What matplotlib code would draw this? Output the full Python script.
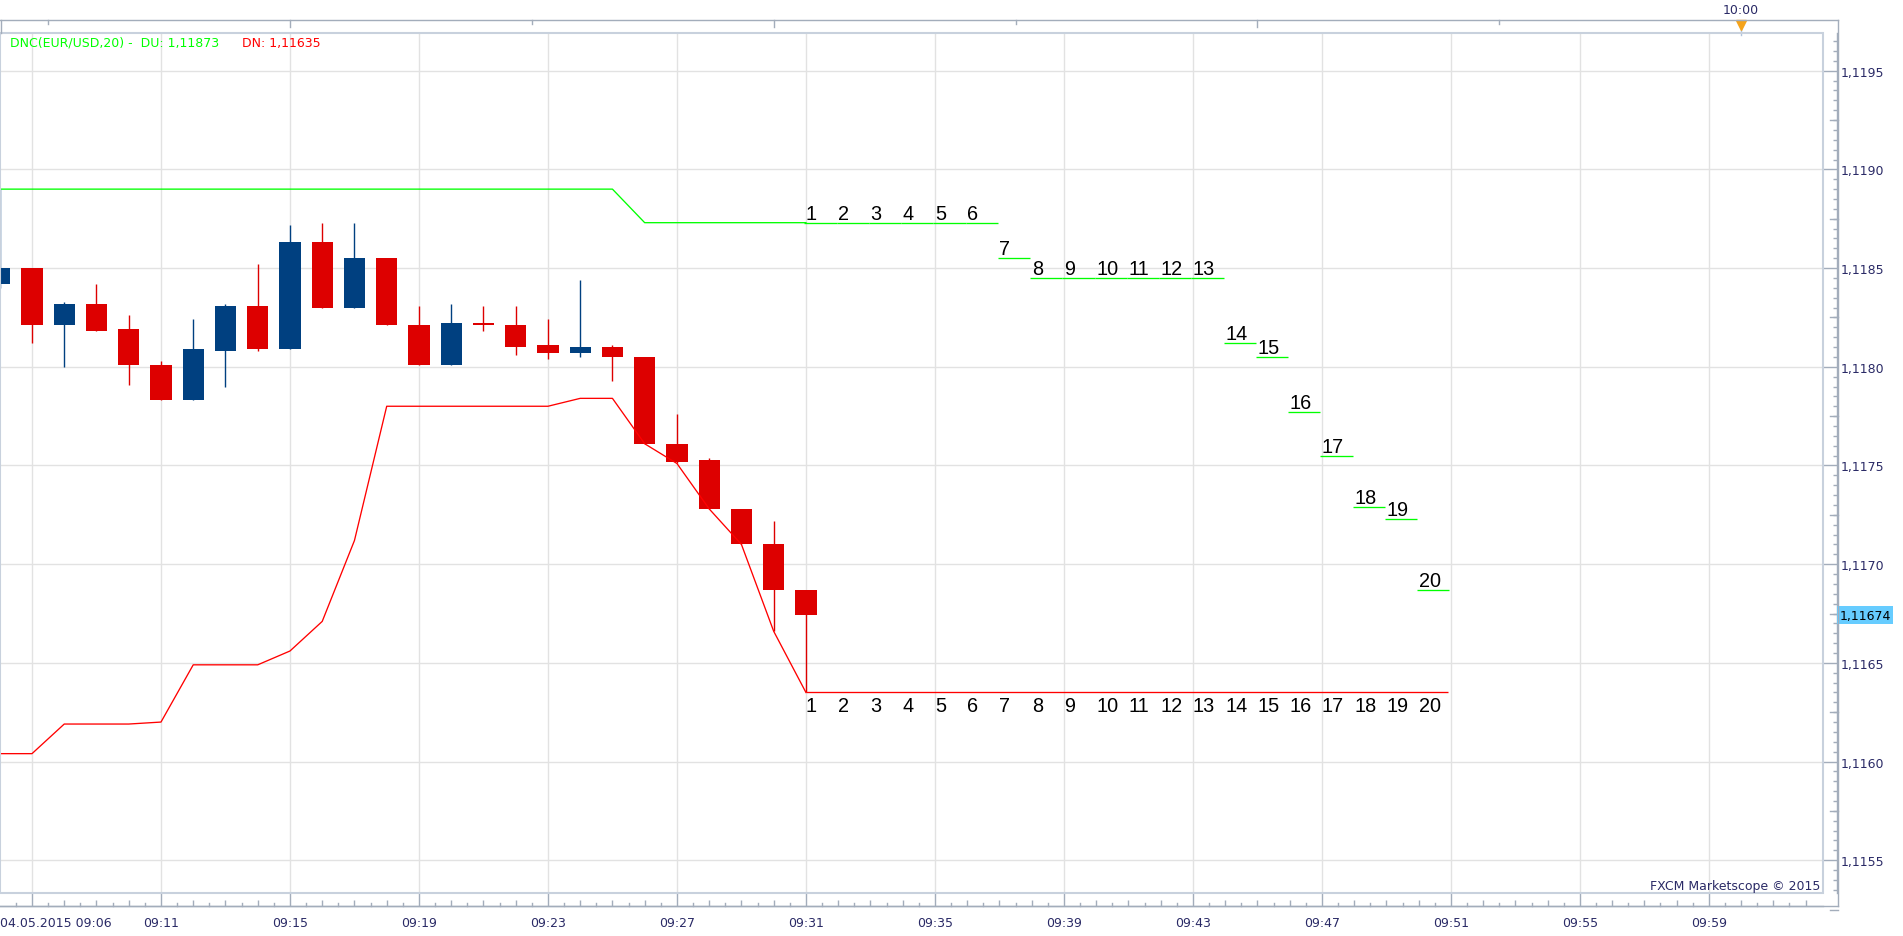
import matplotlib
matplotlib.use("Agg")
import matplotlib.pyplot as plt
import matplotlib.transforms as mtransforms
from matplotlib.lines import Line2D
from matplotlib.patches import Rectangle
from matplotlib.ticker import FixedLocator, MultipleLocator
import numpy as np

# candles, one per minute (index 0 = first visible bar)
opens = [1.11842, 1.11850, 1.11821, 1.11832, 1.11819, 1.11801, 1.11783, 1.11808, 1.11831,
         1.11809, 1.11863, 1.11830, 1.11855, 1.11821, 1.11801, 1.11822, 1.11821, 1.11811,
         1.11807, 1.11810, 1.11805, 1.11761, 1.11753, 1.11728, 1.11710, 1.11687]
highs = [1.11890, 1.11850, 1.11833, 1.11842, 1.11826, 1.11803, 1.11824, 1.11832, 1.11852,
         1.11872, 1.11873, 1.11873, 1.11855, 1.11831, 1.11832, 1.11831, 1.11831, 1.11824,
         1.11844, 1.11811, 1.11805, 1.11776, 1.11754, 1.11728, 1.11722, 1.11687]
lows = [1.11840, 1.11812, 1.11800, 1.11818, 1.11791, 1.11783, 1.11783, 1.11790, 1.11808,
        1.11809, 1.11830, 1.11830, 1.11821, 1.11801, 1.11801, 1.11818, 1.11806, 1.11804,
        1.11805, 1.11793, 1.11761, 1.11751, 1.11728, 1.11710, 1.11666, 1.11635]
closes = [1.11850, 1.11821, 1.11832, 1.11818, 1.11801, 1.11783, 1.11809, 1.11831, 1.11809,
          1.11863, 1.11830, 1.11855, 1.11821, 1.11801, 1.11822, 1.11821, 1.11810, 1.11807,
          1.11810, 1.11805, 1.11761, 1.11752, 1.11728, 1.11710, 1.11687, 1.11674]

# Donchian channel (20) as drawn
du = [1.11890, 1.11890, 1.11890, 1.11890, 1.11890, 1.11890, 1.11890, 1.11890, 1.11890,
      1.11890, 1.11890, 1.11890, 1.11890, 1.11890, 1.11890, 1.11890, 1.11890, 1.11890,
      1.11890, 1.11890, 1.11873, 1.11873, 1.11873, 1.11873, 1.11873, 1.11873]
dn = [1.11604, 1.11604, 1.11619, 1.11619, 1.11619, 1.11620, 1.11649, 1.11649, 1.11649,
      1.11656, 1.11671, 1.11712, 1.11780, 1.11780, 1.11780, 1.11780, 1.11780, 1.11780,
      1.11784, 1.11784, 1.11761, 1.11751, 1.11728, 1.11710, 1.11666, 1.11635]

# projected channel for the next 20 bars
proj_steps = list(range(1, 21))
du_proj = [1.11873, 1.11873, 1.11873, 1.11873, 1.11873, 1.11873, 1.11855, 1.11845, 1.11845,
           1.11845, 1.11845, 1.11845, 1.11845, 1.11812, 1.11805, 1.11777, 1.11755, 1.11729,
           1.11723, 1.11687]
dn_proj = 1.11635

x_tick_pos = [1, 5, 9, 13, 17, 21, 25, 29, 33, 37, 41, 45, 49, 53]
x_tick_labels = ["04.05.2015 09:06", "09:11", "09:15", "09:19", "09:23", "09:27", "09:31",
                 "09:35", "09:39", "09:43", "09:47", "09:51", "09:55", "09:59"]
y_ticks = [1.1155, 1.1160, 1.1165, 1.1170, 1.1175, 1.1180, 1.1185, 1.1190, 1.1195]

RED = "#dd0000"
BLUE = "#004080"
GREEN = "#00ff00"
DNRED = "#ff0000"
TXT = "#2a2a66"
FRAME = "#a3adbb"

W, H = 1903, 937
fig = plt.figure(figsize=(W / 100, H / 100), dpi=100)


def fx(px):
    return px / W


def fy(py):
    return 1 - py / H


ax = fig.add_axes([0, fy(894), fx(1822.7), (894 - 34) / H])
ax.set_xlim(0.008, 56.53)
ax.set_ylim(1.115334, 1.119691)

# candles
o = np.array(opens)
c = np.array(closes)
idx = np.arange(len(o))
cols = np.where(c >= o, BLUE, RED)
ax.vlines(idx, lows, highs, colors=cols, lw=1.0, zorder=2)
ax.bar(idx, np.abs(c - o), bottom=np.minimum(o, c), width=0.66, color=cols,
       zorder=2.5, linewidth=0)

# channel lines
ax.plot(idx, du, color=GREEN, lw=0.95, zorder=3)
ax.plot(idx, dn, color=DNRED, lw=0.95, zorder=3)

last = idx[-1]
for n, u in zip(proj_steps, du_proj):
    k = last - 1 + n
    ax.hlines(u, k - 0.05, k + 0.95, color=GREEN, lw=0.95, zorder=3)
    ax.annotate(str(n), (k, u), xytext=(0, 4), textcoords="offset pixels",
                ha="left", va="baseline", fontsize=14.3, family="Liberation Sans",
                color="black", zorder=4)
ax.hlines(dn_proj, last, last + 19.9, color=DNRED, lw=0.95, zorder=3)
for n in proj_steps:
    k = last - 1 + n
    ax.annotate(str(n), (k, dn_proj), xytext=(0, -19), textcoords="offset pixels",
                ha="left", va="baseline", fontsize=14.3, family="Liberation Sans",
                color="black", zorder=4)

# axes, ticks, grid
for s in ["top", "left"]:
    ax.spines[s].set_visible(False)
ax.spines["bottom"].set_position(("outward", 12.7 * 0.72))
ax.spines["right"].set_position(("outward", 14.6 * 0.72))
for s in ["bottom", "right"]:
    ax.spines[s].set_color(FRAME)
    ax.spines[s].set_linewidth(1.0)

ax.yaxis.tick_right()
ax.yaxis.set_major_locator(FixedLocator(y_ticks))
ax.set_yticklabels([f"{v:.4f}".replace(".", ",") for v in y_ticks])
ax.yaxis.set_minor_locator(MultipleLocator(0.00005))
ax.tick_params(axis="y", which="major", direction="in", length=10.5, width=1,
               color=FRAME, labelsize=9, labelcolor=TXT, pad=2.2)
ax.tick_params(axis="y", which="minor", direction="in", length=3.1, width=1, color=FRAME)

ax.xaxis.set_major_locator(FixedLocator(x_tick_pos))
ax.set_xticklabels([""] + x_tick_labels[1:])
ax.xaxis.set_minor_locator(FixedLocator([k for k in range(0, 57) if k not in x_tick_pos]))
ax.tick_params(axis="x", which="major", direction="in", length=9.1, width=1,
               color=FRAME, labelsize=9, labelcolor=TXT, pad=7.2)
ax.tick_params(axis="x", which="minor", direction="in", length=4.3, width=1, color=FRAME)

ax.grid(True, which="major", color="#e2e2e2", lw=1.0)
ax.set_axisbelow(True)

# extra tick levels
ty = mtransforms.blended_transform_factory(fig.transFigure, ax.transData)
for v in np.arange(1.11525, 1.1197, 0.0005):
    ax.plot([fx(1830), fx(1837.5)], [v, v], color=FRAME, lw=1, transform=ty, clip_on=False)
tx = mtransforms.blended_transform_factory(ax.transData, fig.transFigure)
for k in np.arange(0.5, 56.5, 1.0):
    ax.plot([k, k], [fy(907), fy(903.5)], color=FRAME, lw=1, transform=tx, clip_on=False)

# top strip ticks and 10:00 marker
for j, k in enumerate([1.5, 9, 16.5, 24, 31.5, 39, 46.5]):
    ax.plot([k, k], [fy(21), fy(25 if j % 2 == 0 else 28)], color=FRAME, lw=1,
            transform=tx, clip_on=False)
ax.plot([54, 54], [fy(30), fy(36)], color="#b0c4de", lw=1, transform=tx, clip_on=False)
ax.plot([54], [fy(25.5)], marker="v", ms=7, color="#f5a31a", mec="#f5a31a",
        transform=tx, clip_on=False)
ax.text(54, fy(10.7), "10:00", transform=tx, ha="center", va="center",
        fontsize=9, color=TXT)

# frames
ax.add_patch(Rectangle((0, 0), 1, 1, transform=ax.transAxes, fill=False,
                       ec="#c8d1dd", lw=1.5, clip_on=False, zorder=5))
for xs, ys in [([0, 1837.5], [21, 21]), ([1837.5, 1837.5], [21, 907]),
               ([0, 1837.5], [907, 907]), ([0.5, 0.5], [21, 34])]:
    fig.add_artist(Line2D([fx(v) for v in xs], [fy(v) for v in ys],
                          transform=fig.transFigure, color=FRAME, lw=1.0))

# texts
fig.text(fx(0.5), fy(917), x_tick_labels[0], ha="left", va="top", fontsize=9, color=TXT)
fig.text(fx(9.8), fy(43.3), "DNC(EUR/USD,20) -  DU: 1,11873", color=GREEN,
         fontsize=9, va="center", ha="left")
fig.text(fx(242.4), fy(43.3), "DN: 1,11635", color=DNRED, fontsize=9,
         va="center", ha="left")
fig.text(fx(1820.5), fy(886.7), "FXCM Marketscope © 2015", ha="right", va="center",
         fontsize=9, color=TXT)
ax.text(fx(1839.6), closes[-1], f"{closes[-1]:.5f}".replace(".", ","), transform=ty,
        ha="left", va="center", fontsize=9, color="black", clip_on=False, zorder=6,
        bbox=dict(boxstyle="square,pad=0.2", fc="#66ccff", ec="none"))

fig.savefig("out.png", dpi=100, facecolor="white")
